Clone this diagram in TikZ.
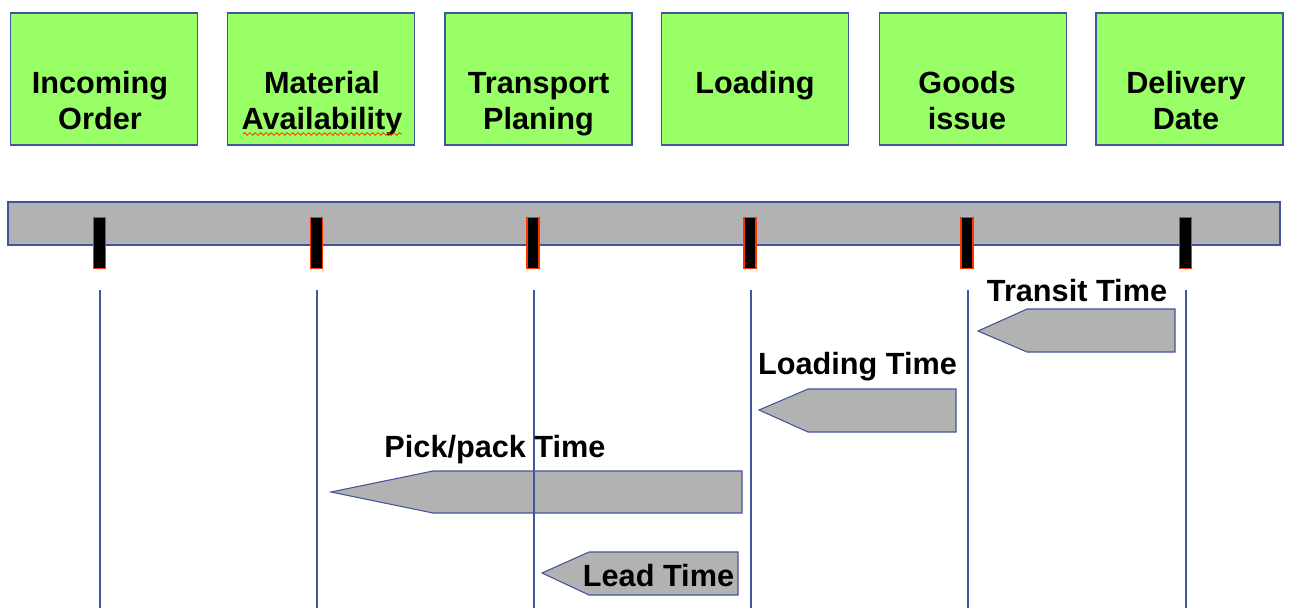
\documentclass[tikz,border=0pt]{standalone}
\usepackage{fontspec}
\setmainfont{Liberation Sans}
\usetikzlibrary{decorations.pathmorphing}
\definecolor{boxgreen}{HTML}{99FF66}
\definecolor{bargray}{HTML}{B2B2B2}
\definecolor{edgeblue}{HTML}{41559C}
\definecolor{tickred}{HTML}{FF3300}
\begin{document}
\begin{tikzpicture}[x=0.75pt,y=-0.75pt,
  stagebox/.style={draw=edgeblue,line width=0.8pt,fill=boxgreen,minimum width=140.25pt,minimum height=99pt,inner sep=0pt},
  stagetext/.style={font=\fontsize{23}{27}\selectfont\bfseries,align=center,anchor=base,inner sep=0pt},
  tickmark/.style={draw=tickred,line width=1pt,fill=black,minimum width=9pt,minimum height=38.5pt,inner sep=0pt},
  timearrow/.style={draw=edgeblue,line width=0.8pt,fill=bargray},
  vline/.style={draw=edgeblue,line width=0.8pt},
  timelabel/.style={font=\fontsize{23}{27}\selectfont\bfseries,anchor=base,inner sep=0pt}]
\useasboundingbox (0,0) rectangle (1311,608);
% stage boxes
\node[stagebox] (b1) at (104,79) {};
\node[stagebox] (b2) at (321,79) {};
\node[stagebox] (b3) at (538.5,79) {};
\node[stagebox] (b4) at (755,79) {};
\node[stagebox] (b5) at (973,79) {};
\node[stagebox] (b6) at (1189.5,79) {};
\node[stagetext] (t1) at (100,129) {Incoming\\Order};
\node[stagetext] (t2) at (322,129) {Material\\Availability};
\node[stagetext] (t3) at (538.5,129) {Transport\\Planing};
\node[stagetext] (t4) at (755,93) {Loading};
\node[stagetext] (t5) at (967,129) {Goods\\issue};
\node[stagetext] (t6) at (1186,129) {Delivery\\Date};
\draw[tickred,line width=0.6pt,decorate,decoration={snake,amplitude=1pt,segment length=4pt}] (243,134) -- (402,134);
% time bar
\node[draw=edgeblue,line width=0.8pt,fill=bargray,minimum width=954pt,minimum height=32.25pt,inner sep=0pt] (bar) at (644,223.5) {};
\foreach \i/\x in {1/99.5,2/316.5,3/533,4/750,5/967,6/1185.5}{
  \node[tickmark] (k\i) at (\x,243) {};
}
% duration arrows
\draw[timearrow] (978,331) -- (1027,309) -- (1175,309) -- (1175,352) -- (1027,352) -- cycle;
\draw[timearrow] (759,410) -- (808,389) -- (956,389) -- (956,432) -- (808,432) -- cycle;
\draw[timearrow] (331,492) -- (433,471) -- (742,471) -- (742,513) -- (433,513) -- cycle;
\draw[timearrow] (542,573) -- (589,552) -- (738,552) -- (738,595) -- (589,595) -- cycle;
% vertical lines
\foreach \i/\x in {1/100,2/317,3/534,4/751,5/968,6/1186}{
  \coordinate (vt\i) at (\x,290);
  \coordinate (vb\i) at (\x,608);
  \draw[vline] (vt\i) -- (vb\i);
}
% labels
\node[timelabel] (l1) at (1077,301) {Transit Time};
\node[timelabel] (l2) at (857.5,374) {Loading Time};
\node[timelabel] (l3) at (495,457) {Pick/pack Time};
\node[timelabel] (l4) at (658.5,586) {Lead Time};
\end{tikzpicture}
\end{document}
